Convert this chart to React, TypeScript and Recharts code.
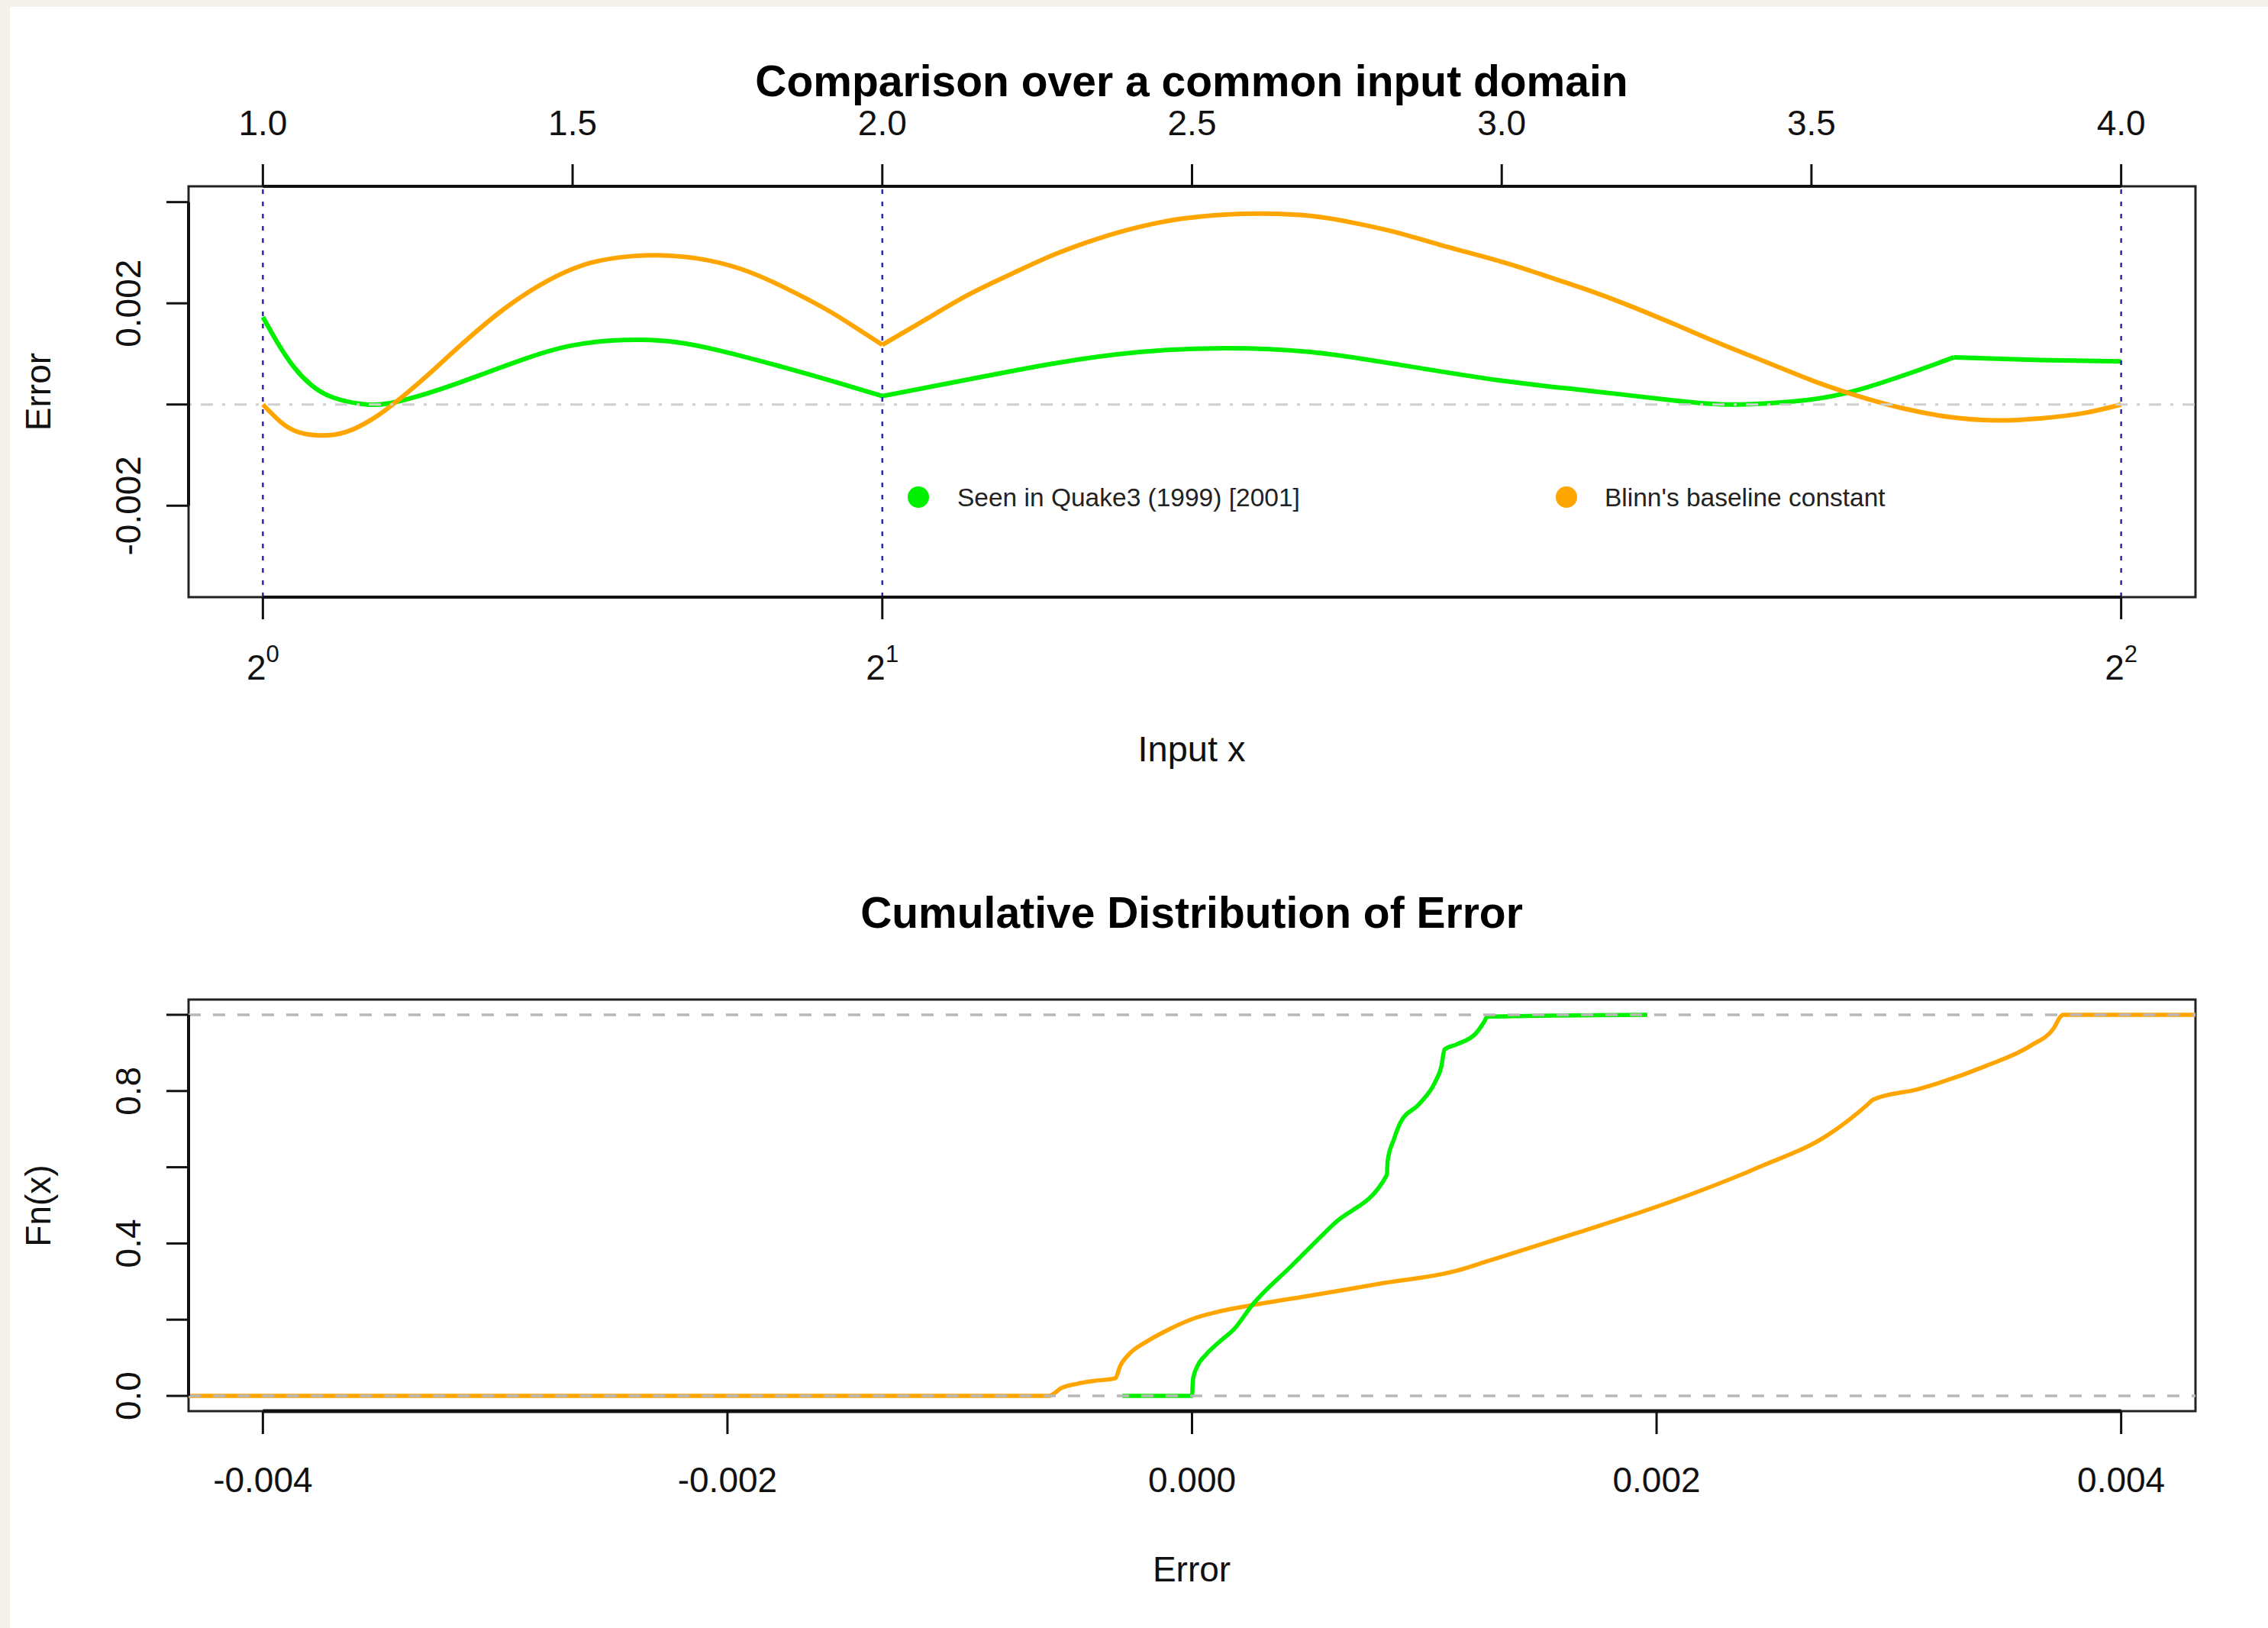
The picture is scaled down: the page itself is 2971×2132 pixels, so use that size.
import React from "react";
import { LineChart, Line, XAxis, YAxis, ReferenceLine, ReferenceArea } from "recharts";

// ---------------- data ----------------
const topTitle = "Comparison over a common input domain";
const bottomTitle = "Cumulative Distribution of Error";
const seriesNames = ["Seen in Quake3 (1999) [2001]", "Blinn's baseline constant"];

const inputDomain: [number, number] = [0.88, 4.12];
const errDomain: [number, number] = [-0.003807, 0.004312];
const topXTicks = [1.0, 1.5, 2.0, 2.5, 3.0, 3.5, 4.0];
const topXTickLabels = ["1.0", "1.5", "2.0", "2.5", "3.0", "3.5", "4.0"];
const powTicks = [1, 2, 4];
const powBase = "2";
const powExps = ["0", "1", "2"];
const errTicks = [-0.002, 0, 0.002, 0.004];
const errTickLabels = ["-0.002", "", "0.002", ""];
const topXLabel = "Input x";
const topYLabel = "Error";
const binadeEdges = [1, 2, 4];

// Quake3 constant: relative error vs input x, piecewise
const quakeErr1: [number, number][] = [
  [1.0, 0.001727], [1.023, 0.001234], [1.05, 0.000741], [1.078, 0.000386], [1.113, 0.000139],
  [1.168, 0.0], [1.217, 0.000056], [1.286, 0.0003], [1.355, 0.0006], [1.424, 0.000906],
  [1.493, 0.001152], [1.5625, 0.001262], [1.611, 0.001278], [1.666, 0.001234], [1.736, 0.00107],
  [1.839, 0.000741], [1.931, 0.00042], [2.0, 0.000166],
];
const quakeErr2: [number, number][] = [
  [2.0, 0.000166], [2.1385, 0.000494], [2.277, 0.000812], [2.415, 0.001037], [2.554, 0.001114],
  [2.692, 0.001037], [2.83, 0.000796], [3.0, 0.00047], [3.1375, 0.000276], [3.284, 0.000072],
  [3.372, 0.0], [3.467, 0.000056], [3.554, 0.00022], [3.649, 0.000577], [3.73, 0.000933],
];
const quakeErr3: [number, number][] = [
  [3.73, 0.000933], [3.869, 0.000879], [4.0, 0.000852],
];
// Blinn baseline constant
const blinnErr1: [number, number][] = [
  [1.0, 0.0], [1.0296, -0.000354], [1.0573, -0.000546], [1.092, -0.000612], [1.1334, -0.000546],
  [1.175, -0.0003], [1.2096, 0.0], [1.258, 0.000494], [1.32, 0.00118], [1.3895, 0.00189],
  [1.4587, 0.00244], [1.528, 0.002796], [1.597, 0.002933], [1.6455, 0.002948], [1.7008, 0.002888],
  [1.77, 0.002686], [1.839, 0.00233], [1.908, 0.00189], [1.955, 0.001536], [2.0, 0.00118],
];
const blinnErr2: [number, number][] = [
  [2.0, 0.00118], [2.069, 0.001672], [2.1385, 0.002166], [2.2077, 0.002577], [2.277, 0.00296],
  [2.346, 0.00327], [2.415, 0.00351], [2.4845, 0.003673], [2.554, 0.003754], [2.616, 0.003771],
  [2.692, 0.003727], [2.761, 0.00359], [2.83, 0.0034], [2.899, 0.00316], [3.0, 0.00282],
  [3.064, 0.00257], [3.1375, 0.00227], [3.211, 0.00193], [3.284, 0.00156], [3.357, 0.00118],
  [3.43, 0.000823], [3.503, 0.000466], [3.576, 0.000164], [3.649, -0.00008], [3.722, -0.000246],
  [3.795, -0.000312], [3.869, -0.000274], [3.942, -0.000164], [4.0, 0.0],
];

// ECDF panel
const cdfXDomain: [number, number] = [-0.00432, 0.00432];
const cdfYDomain: [number, number] = [-0.04, 1.04];
const cdfXTicks = [-0.004, -0.002, 0, 0.002, 0.004];
const cdfXTickLabels = ["-0.004", "-0.002", "0.000", "0.002", "0.004"];
const cdfYTicks = [0, 0.2, 0.4, 0.6, 0.8, 1.0];
const cdfYTickLabels = ["0.0", "", "0.4", "", "0.8", ""];
const cdfXLabel = "Error";
const cdfYLabel = "Fn(x)";
const cdfBounds = [0, 1];

const quakeCdf: [number, number][] = [
  [-0.0003, 0], [0, 0], [0.000004, 0.043], [0.000024, 0.079], [0.000058, 0.107], [0.00012, 0.143],
  [0.000181, 0.175], [0.000256, 0.236], [0.000433, 0.344], [0.00061, 0.451], [0.000839, 0.58],
  [0.000842, 0.616], [0.000869, 0.673], [0.000896, 0.716], [0.000978, 0.766], [0.001046, 0.823],
  [0.001074, 0.866], [0.001087, 0.909], [0.001142, 0.923], [0.001223, 0.952], [0.001257, 0.981],
  [0.001271, 0.995], [0.001438, 0.997], [0.00196, 1.0],
];
const blinnCdf: [number, number][] = [
  [-0.00432, 0], [-0.000616, 0], [-0.000561, 0.021], [-0.000493, 0.032], [-0.000425, 0.039],
  [-0.00033, 0.0465], [-0.000309, 0.079], [-0.000275, 0.107], [-0.000194, 0.143], [-0.000098, 0.175],
  [0.000011, 0.204], [0.00012, 0.222], [0.000256, 0.2377], [0.000528, 0.265], [0.000801, 0.2936],
  [0.001142, 0.329], [0.001274, 0.354], [0.001664, 0.429], [0.002054, 0.508], [0.002444, 0.601],
  [0.002736, 0.684], [0.002911, 0.766], [0.002931, 0.777], [0.003126, 0.805], [0.003418, 0.866],
  [0.003613, 0.92], [0.003711, 0.966], [0.00374, 0.996], [0.00375, 1.0], [0.00432, 1.0],
];

// ---------------- styling ----------------
const W = 2971;
const H = 2132;
const FONT = "'Liberation Sans', Arial, Helvetica, sans-serif";
const GREEN = "#00f000";
const ORANGE = "#ffa500";
const colors = [GREEN, ORANGE];

const toPts = (arr: [number, number][]) => arr.map(([x, y]) => ({ x, y }));
const findIdx = (arr: number[], v: number) => arr.findIndex((t) => Math.abs(t - v) < 1e-9);

const tickLineStyle = { stroke: "#111", strokeWidth: 3 };

const makeXTick = (ticks: number[], labels: string[], baseline: number) => (props: any) => {
  const { x, payload } = props;
  const i = findIdx(ticks, payload.value);
  return (
    <text x={x} y={baseline} textAnchor="middle" fontSize={46} fontFamily={FONT} fill="#111">
      {i >= 0 ? labels[i] : ""}
    </text>
  );
};

const makeYTick = (ticks: number[], labels: string[], bx: number) => (props: any) => {
  const { y, payload } = props;
  const i = findIdx(ticks, payload.value);
  const lab = i >= 0 ? labels[i] : "";
  if (!lab) return <g />;
  return (
    <text
      x={bx}
      y={y}
      transform={`rotate(-90 ${bx} ${y})`}
      textAnchor="middle"
      fontSize={46}
      fontFamily={FONT}
      fill="#111"
    >
      {lab}
    </text>
  );
};

const PowTick = (props: any) => {
  const { x, payload } = props;
  const i = findIdx(powTicks, payload.value);
  return (
    <text x={x} y={890} textAnchor="middle" fontSize={46} fontFamily={FONT} fill="#111">
      <tspan>{powBase}</tspan>
      <tspan dy={-23} fontSize={31}>
        {i >= 0 ? powExps[i] : ""}
      </tspan>
    </text>
  );
};

const AXIS_W = 4;

function TopPanel() {
  const segs = [
    { d: quakeErr1, c: 0 },
    { d: quakeErr2, c: 0 },
    { d: quakeErr3, c: 0 },
    { d: blinnErr1, c: 1 },
    { d: blinnErr2, c: 1 },
  ];
  return (
    <LineChart width={W} height={1100} margin={{ top: 0, right: 95, bottom: 0, left: 0 }}>
      <XAxis
        dataKey="x"
        type="number"
        domain={inputDomain}
        allowDataOverflow
        ticks={powTicks}
        interval={0}
        height={318}
        tickSize={29}
        axisLine={false}
        tickLine={tickLineStyle}
        tick={PowTick}
      />
      <XAxis
        xAxisId="top"
        orientation="top"
        dataKey="x"
        type="number"
        domain={inputDomain}
        allowDataOverflow
        ticks={topXTicks}
        interval={0}
        height={244}
        tickSize={29}
        axisLine={false}
        tickLine={tickLineStyle}
        tick={makeXTick(topXTicks, topXTickLabels, 177)}
      />
      <YAxis
        type="number"
        domain={errDomain}
        allowDataOverflow
        ticks={errTicks}
        interval={0}
        width={247}
        tickSize={29}
        axisLine={false}
        tickLine={tickLineStyle}
        tick={makeYTick(errTicks, errTickLabels, 184)}
      />
      {segs.map((s, k) => (
        <Line
          key={k}
          data={toPts(s.d)}
          dataKey="y"
          type="natural"
          stroke={colors[s.c]}
          strokeWidth={6}
          dot={false}
          activeDot={false}
          isAnimationActive={false}
        />
      ))}
      <ReferenceLine y={0} stroke="#cfcfcf" strokeWidth={3} strokeDasharray="4 12 16 12" />
      {binadeEdges.map((v) => (
        <ReferenceLine key={v} x={v} stroke="#2a2aa6" strokeWidth={2.5} strokeDasharray="6 10" />
      ))}
      <ReferenceArea
        x1={inputDomain[0]}
        x2={inputDomain[1]}
        y1={errDomain[0]}
        y2={errDomain[1]}
        fill="none"
        fillOpacity={0}
        stroke="#222"
        strokeWidth={3}
      />
      <ReferenceLine
        segment={[{ x: topXTicks[0], y: errDomain[1] }, { x: topXTicks[topXTicks.length - 1], y: errDomain[1] }]}
        stroke="#111"
        strokeWidth={AXIS_W}
      />
      <ReferenceLine
        segment={[{ x: powTicks[0], y: errDomain[0] }, { x: powTicks[powTicks.length - 1], y: errDomain[0] }]}
        stroke="#111"
        strokeWidth={AXIS_W}
      />
      <ReferenceLine
        segment={[{ x: inputDomain[0], y: errTicks[0] }, { x: inputDomain[0], y: errTicks[errTicks.length - 1] }]}
        stroke="#111"
        strokeWidth={AXIS_W}
      />
    </LineChart>
  );
}

function BottomPanel() {
  return (
    <LineChart width={W} height={1032} margin={{ top: 209, right: 95, bottom: 0, left: 0 }}>
      <XAxis
        dataKey="x"
        type="number"
        domain={cdfXDomain}
        allowDataOverflow
        ticks={cdfXTicks}
        interval={0}
        height={284}
        tickSize={30}
        axisLine={false}
        tickLine={tickLineStyle}
        tick={makeXTick(cdfXTicks, cdfXTickLabels, 854)}
      />
      <YAxis
        type="number"
        domain={cdfYDomain}
        allowDataOverflow
        ticks={cdfYTicks}
        interval={0}
        width={247}
        tickSize={29}
        axisLine={false}
        tickLine={tickLineStyle}
        tick={makeYTick(cdfYTicks, cdfYTickLabels, 184)}
      />
      <Line
        data={toPts(blinnCdf)}
        dataKey="y"
        type="monotone"
        stroke={ORANGE}
        strokeWidth={5.5}
        dot={false}
        activeDot={false}
        isAnimationActive={false}
      />
      <Line
        data={toPts(quakeCdf)}
        dataKey="y"
        type="monotone"
        stroke={GREEN}
        strokeWidth={5.5}
        dot={false}
        activeDot={false}
        isAnimationActive={false}
      />
      {cdfBounds.map((v) => (
        <ReferenceLine key={v} y={v} stroke="#b8b8b8" strokeWidth={3.5} strokeDasharray="16 16" />
      ))}
      <ReferenceArea
        x1={cdfXDomain[0]}
        x2={cdfXDomain[1]}
        y1={cdfYDomain[0]}
        y2={cdfYDomain[1]}
        fill="none"
        fillOpacity={0}
        stroke="#222"
        strokeWidth={3}
      />
      <ReferenceLine
        segment={[{ x: cdfXTicks[0], y: cdfYDomain[0] }, { x: cdfXTicks[cdfXTicks.length - 1], y: cdfYDomain[0] }]}
        stroke="#111"
        strokeWidth={AXIS_W + 1}
      />
      <ReferenceLine
        segment={[{ x: cdfXDomain[0], y: cdfYTicks[0] }, { x: cdfXDomain[0], y: cdfYTicks[cdfYTicks.length - 1] }]}
        stroke="#111"
        strokeWidth={AXIS_W}
      />
    </LineChart>
  );
}

export default function App() {
  return (
    <div style={{ position: "absolute", left: 0, top: 0, width: W, height: H, background: "#f4f1ea", overflow: "hidden" }}>
      <div style={{ position: "absolute", left: 13, top: 9, right: 0, bottom: 0, background: "#ffffff" }} />
      <div style={{ position: "absolute", left: 0, top: 0 }}>
        <TopPanel />
      </div>
      <div style={{ position: "absolute", left: 0, top: 1100 }}>
        <BottomPanel />
      </div>
      <svg
        width={W}
        height={H}
        style={{ position: "absolute", left: 0, top: 0, pointerEvents: "none" }}
        fontFamily={FONT}
      >
        <text x={1561} y={126} textAnchor="middle" fontSize={57} fontWeight="bold" fill="#000">
          {topTitle}
        </text>
        <text x={1561} y={997} textAnchor="middle" fontSize={47} fill="#111">
          {topXLabel}
        </text>
        <text x={66} y={513} transform="rotate(-90 66 513)" textAnchor="middle" fontSize={46} fill="#111">
          {topYLabel}
        </text>
        <circle cx={1203} cy={651} r={14} fill={GREEN} />
        <text x={1254} y={663} fontSize={33.5} fill="#222">
          {seriesNames[0]}
        </text>
        <circle cx={2052} cy={651} r={14} fill={ORANGE} />
        <text x={2102} y={663} fontSize={33.5} fill="#222">
          {seriesNames[1]}
        </text>
        <text x={1561} y={1215} textAnchor="middle" fontSize={57} fontWeight="bold" fill="#000">
          {bottomTitle}
        </text>
        <text x={1561} y={2071} textAnchor="middle" fontSize={46} fill="#111">
          {cdfXLabel}
        </text>
        <text x={66} y={1579} transform="rotate(-90 66 1579)" textAnchor="middle" fontSize={46} fill="#111">
          {cdfYLabel}
        </text>
      </svg>
    </div>
  );
}
